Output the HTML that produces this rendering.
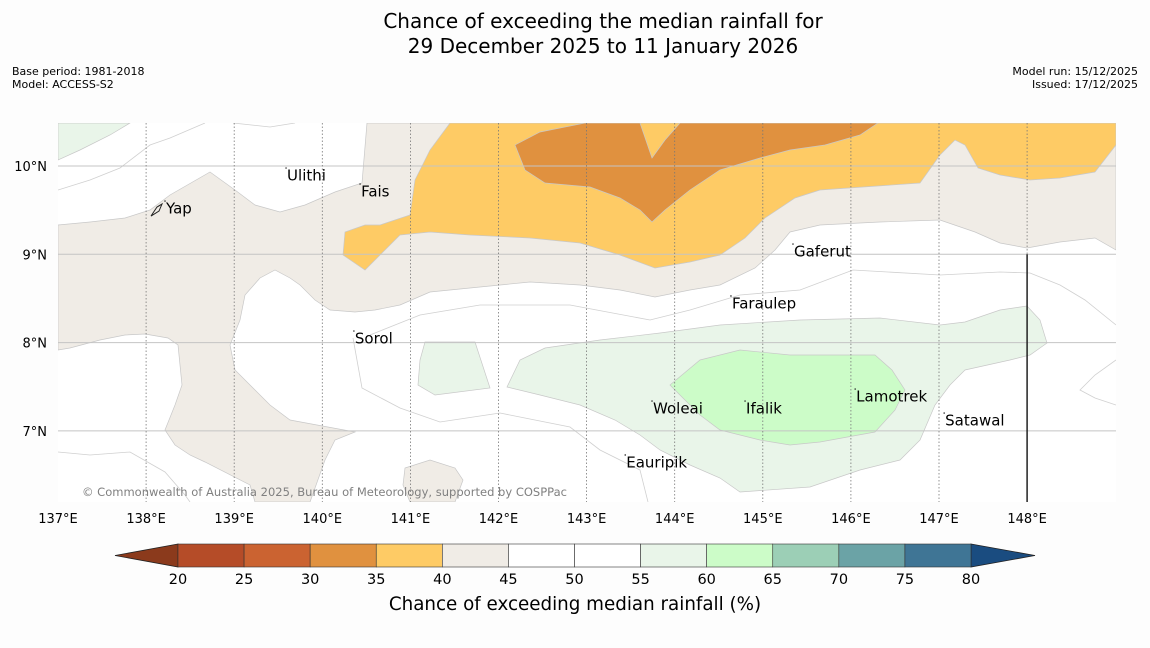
<!DOCTYPE html>
<html><head><meta charset="utf-8">
<style>
body{margin:0;background:#fdfdfd;width:1150px;height:644px;overflow:hidden;font-family:"DejaVu Sans","Liberation Sans",sans-serif;}
</style></head>
<body>
<svg id="chart" width="1150" height="644" xmlns="http://www.w3.org/2000/svg" font-family="DejaVu Sans, Liberation Sans, sans-serif">
<text x="603" y="28" font-size="20" text-anchor="middle">Chance of exceeding the median rainfall for</text>
<text x="603" y="53" font-size="20" text-anchor="middle">29 December 2025 to 11 January 2026</text>
<text x="12" y="75" font-size="11">Base period: 1981-2018</text>
<text x="12" y="88" font-size="11">Model: ACCESS-S2</text>
<text x="1138" y="75" font-size="11" text-anchor="end">Model run: 15/12/2025</text>
<text x="1138" y="88" font-size="11" text-anchor="end">Issued: 17/12/2025</text>
<defs><clipPath id="mapclip"><rect x="58" y="123" width="1058" height="379"/></clipPath></defs>
<g id="map" clip-path="url(#mapclip)"></g>
<g id="axes"></g>
<g id="cbar"></g>
</svg>
<script>
const lonTicks=[137,138,139,140,141,142,143,144,145,146,147,148];
const latTicks=[10,9,8,7];
const cbLevels=[20,25,30,35,40,45,50,55,60,65,70,75,80];
const cbColors=["#b54c28","#cb6331","#e0913f","#fecb65","#f0ece6","#ffffff","#ffffff","#e9f5e9","#ccfcc8","#9ccfb6","#6ba3a6","#3f7595"];
const places=[["Yap",138.226,9.524],["Ulithi",139.60,9.898],["Fais",140.44,9.717],["Gaferut",145.354,9.037],["Faraulep",144.65,8.449],["Sorol",140.37,8.052],["Woleai",143.754,7.259],["Ifalik",144.81,7.259],["Lamotrek",146.06,7.395],["Satawal",147.07,7.123],["Eauripik",143.45,6.648]];
function toLL(a){return a.map(p=>[+(137+(p[0]-58)/88.1).toFixed(3),+(10-(p[1]-166)/88.3).toFixed(3)]);}
const beige=toLL([[58,225],[90,222],[125,218],[150,210],[170,195],[210,172],[235,190],[255,205],[280,212],[305,205],[335,192],[362,183],[367,123],[1116,123],[1116,250],[1095,238],[1060,242],[1027,248],[1000,243],[975,232],[940,220],[880,222],[820,225],[790,232],[775,250],[755,268],[720,285],[690,290],[655,297],[620,290],[580,285],[530,282],[480,287],[430,292],[400,305],[375,310],[355,312],[330,310],[315,300],[300,285],[290,278],[275,270],[260,278],[245,295],[240,320],[230,345],[235,370],[255,390],[270,405],[290,420],[355,432],[335,440],[325,460],[310,502],[255,502],[250,485],[205,462],[190,455],[175,445],[165,430],[175,405],[182,385],[178,345],[168,338],[145,334],[125,335],[100,340],[70,348],[58,350]]);
const beige2=toLL([[405,468],[430,460],[455,468],[463,480],[455,502],[410,502],[403,485]]);
const greenTL=toLL([[58,123],[130,123],[110,135],[80,150],[58,160]]);
const yellow=toLL([[450,123],[430,150],[415,180],[410,215],[380,225],[365,225],[345,232],[343,255],[365,270],[385,250],[400,235],[430,232],[470,235],[530,238],[580,243],[620,255],[655,268],[690,262],[720,255],[745,238],[765,218],[795,198],[820,190],[920,183],[940,155],[955,140],[965,145],[978,168],[1000,175],[1030,180],[1060,178],[1095,172],[1116,145],[1116,123]]);
const orange=toLL([[515,145],[540,132],[585,123],[640,123],[652,158],[665,140],[680,123],[878,123],[860,135],[825,145],[790,150],[760,158],[720,170],[690,190],[665,210],[652,222],[640,210],[620,198],[590,187],[545,183],[525,170]]);
const lgreen=toLL([[507,387],[520,360],[545,348],[600,340],[660,333],[720,325],[800,320],[880,318],[940,325],[965,322],[1000,310],[1027,306],[1040,320],[1047,343],[1030,355],[1010,360],[965,370],[950,385],[935,405],[920,440],[900,460],[860,470],[810,487],[740,492],[720,478],[690,465],[660,450],[640,435],[615,420],[580,405],[540,395]]);
const lgreen2=toLL([[425,342],[475,342],[490,388],[435,395],[418,385],[420,360]]);
const green=toLL([[670,385],[700,360],[740,350],[790,355],[875,355],[892,370],[905,390],[895,410],[875,432],[820,442],[790,445],[760,440],[720,430],[700,415]]);
const lines=[toLL([[58,190],[90,180],[120,168],[150,145],[170,138],[205,123]]),
toLL([[233,123],[270,127],[295,123]]),
toLL([[58,452],[90,455],[130,452],[165,472],[185,495],[190,502]]),
toLL([[353,338],[362,388],[400,408],[440,422],[500,413],[570,427],[600,450],[640,470],[648,502]]),
toLL([[370,335],[420,315],[480,305],[570,305],[650,320],[690,310],[740,295],[800,290],[853,270],[940,275],[1000,272],[1030,273],[1060,285],[1085,300],[1116,325]]),
toLL([[1116,360],[1095,375],[1080,390],[1095,398],[1116,405]])];
const X=lon=>58+(lon-137)*88.1, Y=lat=>166+(10-lat)*88.3;
const NS="http://www.w3.org/2000/svg";
function mk(t,a,parent){const e=document.createElementNS(NS,t);for(const k in a)e.setAttribute(k,a[k]);parent.appendChild(e);return e;}
const map=document.getElementById('map'),axes=document.getElementById('axes'),cb=document.getElementById('cbar');
const pts=a=>a.map(p=>X(p[0]).toFixed(1)+","+Y(p[1]).toFixed(1)).join(" ");
let bg=mk('rect',{x:58,y:123,width:1058,height:379,fill:'#ffffff'},map);


function poly(a,fill,name){const e=mk('polygon',{points:pts(a),fill:fill,stroke:'#c8c8c8','stroke-width':0.7},map);

}
poly(greenTL,'#e9f5e9','region-55-60-nw');
poly(beige,'#f0ece6','region-40-45');
poly(beige2,'#f0ece6','region-40-45-south');
poly(yellow,'#fecb65','region-35-40');
poly(orange,'#e0913f','region-30-35');
poly(lgreen,'#e9f5e9','region-55-60');
poly(lgreen2,'#e9f5e9','region-55-60-small');
poly(green,'#ccfcc8','region-60-65');
lines.forEach(l=>{const e=mk('polyline',{points:pts(l),fill:'none',stroke:'#d0d0d0','stroke-width':0.8},map);

});
latTicks.forEach(v=>{const e=mk('line',{x1:58,x2:1116,y1:Y(v),y2:Y(v),stroke:'#c4c4c4','stroke-width':1},map);


const t=mk('text',{x:47,y:Y(v)+5,'font-size':13,'text-anchor':'end'},axes);t.textContent=v+"°N";

});
lonTicks.forEach(v=>{if(v>137){const e=mk('line',{x1:X(v),x2:X(v),y1:123,y2:502,stroke:'#777','stroke-width':0.8,'stroke-dasharray':'1.5,2'},map);

}
const t=mk('text',{x:X(v),y:523,'font-size':13,'text-anchor':'middle'},axes);t.textContent=v+"°E";

});
const bl=mk('line',{x1:X(148),x2:X(148),y1:Y(9),y2:502,stroke:'#222','stroke-width':1.5},map);


places.forEach(p=>{const d=mk('circle',{cx:X(p[1])-1,cy:Y(p[2])-7,r:0.8,fill:'#333'},map);


const t=mk('text',{x:X(p[1]),y:Y(p[2])+5.5,'font-size':15},map);t.textContent=p[0];

});
const yi=mk('path',{d:`M${X(places[0][1])-15},${Y(places[0][2])+8} l6,-9 l5,-3 l-3,7 z`,fill:'none',stroke:'#222','stroke-width':1},map);


const cr=mk('text',{x:82,y:496,'font-size':11.5,fill:'#808080',textLength:485},map);cr.textContent="© Commonwealth of Australia 2025, Bureau of Meteorology, supported by COSPPac";


const cx0=178,cx1=971,cy0=544,cy1=567;
const CX=v=>cx0+(v-cbLevels[0])/(cbLevels[cbLevels.length-1]-cbLevels[0])*(cx1-cx0);
let e=mk('polygon',{points:`${cx0},${cy0} 115,${(cy0+cy1)/2} ${cx0},${cy1}`,fill:'#8b3a1c',stroke:'#222','stroke-width':0.8},cb);


e=mk('polygon',{points:`${cx1},${cy0} 1035,${(cy0+cy1)/2} ${cx1},${cy1}`,fill:'#1a4c80',stroke:'#222','stroke-width':0.8},cb);


cbColors.forEach((c,i)=>{const r=mk('rect',{x:CX(cbLevels[i]),y:cy0,width:CX(cbLevels[i+1])-CX(cbLevels[i]),height:cy1-cy0,fill:c,stroke:'#333','stroke-width':0.6},cb);

});
cbLevels.forEach(v=>{const t=mk('text',{x:CX(v),y:584,'font-size':14.5,'text-anchor':'middle'},cb);t.textContent=v;

});
const ct=mk('text',{x:575,y:610,'font-size':18.3,'text-anchor':'middle'},cb);ct.textContent="Chance of exceeding median rainfall (%)";


</script>
</body></html>
